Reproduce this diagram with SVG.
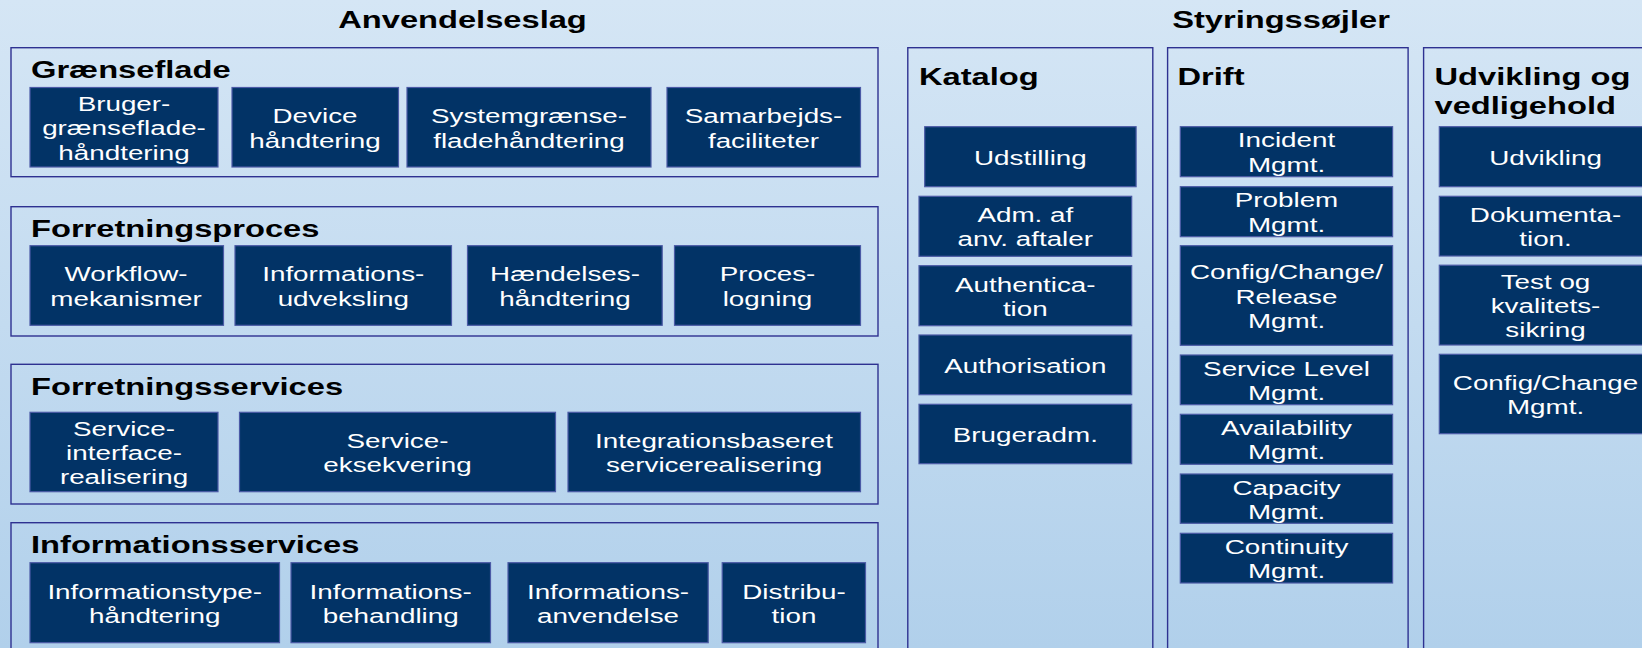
<svg xmlns="http://www.w3.org/2000/svg" width="1642" height="648" viewBox="0 0 1642 648">
  <defs>
    <linearGradient id="bgGrad" x1="0" y1="0" x2="0" y2="1">
      <stop offset="0" stop-color="#d5e6f5"/>
      <stop offset="1" stop-color="#b1d0eb"/>
    </linearGradient>
    <style>
      .grp { fill: none; stroke: #2e3191; stroke-width: 1.4; }
      .box { fill: #023366; stroke: #4b5aa6; stroke-width: 1.2; }
      .lbl { font-family: "Liberation Sans", Arial, sans-serif; font-size: 20px; fill: #ffffff; text-anchor: middle; }
      .hd { font-family: "Liberation Sans", Arial, sans-serif; font-size: 23px; font-weight: bold; fill: #000000; }
      .hdc { text-anchor: middle; }
    </style>
  </defs>

  <rect x="0" y="0" width="1642" height="648" fill="url(#bgGrad)"/>

  <!-- section headings -->
  <g id="headings">
    <text class="hd hdc" transform="translate(462.5,28) scale(1.42,1)">Anvendelseslag</text>
    <text class="hd hdc" transform="translate(1281,28) scale(1.42,1)">Styringssøjler</text>
  </g>

  <!-- application layers (left) -->
  <g id="layer-graenseflade">
    <rect class="grp" x="11" y="47.7" width="867" height="129"/>
    <text class="hd" transform="translate(31,78.3) scale(1.42,1)">Grænseflade</text>
    <g id="n-brugergraenseflade">
      <rect class="box" x="30" y="87.5" width="188" height="79.5"/>
      <text class="lbl" transform="translate(124,111) scale(1.39,1)"><tspan x="0">Bruger-</tspan><tspan x="0" dy="24.5">grænseflade-</tspan><tspan x="0" dy="24.5">håndtering</tspan></text>
    </g>
    <g id="n-device">
      <rect class="box" x="232" y="87.5" width="166.5" height="79.5"/>
      <text class="lbl" transform="translate(315,123.2) scale(1.39,1)"><tspan x="0">Device</tspan><tspan x="0" dy="24.5">håndtering</tspan></text>
    </g>
    <g id="n-systemgraenseflade">
      <rect class="box" x="407" y="87.5" width="244" height="79.5"/>
      <text class="lbl" transform="translate(529,123.2) scale(1.39,1)"><tspan x="0">Systemgrænse-</tspan><tspan x="0" dy="24.5">fladehåndtering</tspan></text>
    </g>
    <g id="n-samarbejds">
      <rect class="box" x="667" y="87.5" width="193.5" height="79.5"/>
      <text class="lbl" transform="translate(763.5,123.2) scale(1.39,1)"><tspan x="0">Samarbejds-</tspan><tspan x="0" dy="24.5">faciliteter</tspan></text>
    </g>
  </g>

  <g id="layer-forretningsproces">
    <rect class="grp" x="11" y="206.7" width="867" height="129.3"/>
    <text class="hd" transform="translate(31,236.7) scale(1.42,1)">Forretningsproces</text>
    <g id="n-workflow">
      <rect class="box" x="30" y="245.7" width="193.5" height="79.6"/>
      <text class="lbl" transform="translate(126,281.2) scale(1.39,1)"><tspan x="0">Workflow-</tspan><tspan x="0" dy="24.5">mekanismer</tspan></text>
    </g>
    <g id="n-informationsudveksling">
      <rect class="box" x="235" y="245.7" width="216.5" height="79.6"/>
      <text class="lbl" transform="translate(343.3,281.2) scale(1.39,1)"><tspan x="0">Informations-</tspan><tspan x="0" dy="24.5">udveksling</tspan></text>
    </g>
    <g id="n-haendelses">
      <rect class="box" x="467.5" y="245.7" width="194.7" height="79.6"/>
      <text class="lbl" transform="translate(565,281.2) scale(1.39,1)"><tspan x="0">Hændelses-</tspan><tspan x="0" dy="24.5">håndtering</tspan></text>
    </g>
    <g id="n-proceslogning">
      <rect class="box" x="674.5" y="245.7" width="186" height="79.6"/>
      <text class="lbl" transform="translate(767.5,281.2) scale(1.39,1)"><tspan x="0">Proces-</tspan><tspan x="0" dy="24.5">logning</tspan></text>
    </g>
  </g>

  <g id="layer-forretningsservices">
    <rect class="grp" x="11" y="364.3" width="867" height="139.7"/>
    <text class="hd" transform="translate(31,395) scale(1.42,1)">Forretningsservices</text>
    <g id="n-serviceinterface">
      <rect class="box" x="30" y="412.3" width="188" height="79.4"/>
      <text class="lbl" transform="translate(124,435.5) scale(1.39,1)"><tspan x="0">Service-</tspan><tspan x="0" dy="24.5">interface-</tspan><tspan x="0" dy="24.5">realisering</tspan></text>
    </g>
    <g id="n-serviceeksekvering">
      <rect class="box" x="239.5" y="412.3" width="316" height="79.4"/>
      <text class="lbl" transform="translate(397.5,447.8) scale(1.39,1)"><tspan x="0">Service-</tspan><tspan x="0" dy="24.5">eksekvering</tspan></text>
    </g>
    <g id="n-integrationsbaseret">
      <rect class="box" x="568" y="412.3" width="292.5" height="79.4"/>
      <text class="lbl" transform="translate(714,447.8) scale(1.39,1)"><tspan x="0">Integrationsbaseret</tspan><tspan x="0" dy="24.5">servicerealisering</tspan></text>
    </g>
  </g>

  <g id="layer-informationsservices">
    <rect class="grp" x="11" y="522.7" width="867" height="140"/>
    <text class="hd" transform="translate(31,553.3) scale(1.42,1)">Informationsservices</text>
    <g id="n-informationstype">
      <rect class="box" x="30" y="562.7" width="249.5" height="80"/>
      <text class="lbl" transform="translate(154.7,598.5) scale(1.39,1)"><tspan x="0">Informationstype-</tspan><tspan x="0" dy="24.5">håndtering</tspan></text>
    </g>
    <g id="n-informationsbehandling">
      <rect class="box" x="291" y="562.7" width="199.5" height="80"/>
      <text class="lbl" transform="translate(390.7,598.5) scale(1.39,1)"><tspan x="0">Informations-</tspan><tspan x="0" dy="24.5">behandling</tspan></text>
    </g>
    <g id="n-informationsanvendelse">
      <rect class="box" x="508" y="562.7" width="200.2" height="80"/>
      <text class="lbl" transform="translate(608,598.5) scale(1.39,1)"><tspan x="0">Informations-</tspan><tspan x="0" dy="24.5">anvendelse</tspan></text>
    </g>
    <g id="n-distribution">
      <rect class="box" x="722.2" y="562.7" width="143.3" height="80"/>
      <text class="lbl" transform="translate(794,598.5) scale(1.39,1)"><tspan x="0">Distribu-</tspan><tspan x="0" dy="24.5">tion</tspan></text>
    </g>
  </g>

  <!-- governance pillars (right) -->
  <g id="pillar-katalog">
    <rect class="grp" x="907.8" y="47.7" width="245" height="620"/>
    <text class="hd" transform="translate(919,85) scale(1.42,1)">Katalog</text>
    <g id="n-udstilling">
      <rect class="box" x="924.7" y="126.7" width="211.4" height="60"/>
      <text class="lbl" transform="translate(1030.4,165) scale(1.39,1)">Udstilling</text>
    </g>
    <g id="n-adm-aftaler">
      <rect class="box" x="919" y="196.3" width="212.7" height="60"/>
      <text class="lbl" transform="translate(1025.3,222) scale(1.39,1)"><tspan x="0">Adm. af</tspan><tspan x="0" dy="24.5">anv. aftaler</tspan></text>
    </g>
    <g id="n-authentication">
      <rect class="box" x="919" y="265.7" width="212.7" height="60"/>
      <text class="lbl" transform="translate(1025.3,291.5) scale(1.39,1)"><tspan x="0">Authentica-</tspan><tspan x="0" dy="24.5">tion</tspan></text>
    </g>
    <g id="n-authorisation">
      <rect class="box" x="919" y="335" width="212.7" height="59.7"/>
      <text class="lbl" transform="translate(1025.3,373.2) scale(1.39,1)">Authorisation</text>
    </g>
    <g id="n-brugeradm">
      <rect class="box" x="919" y="404.3" width="212.7" height="59.4"/>
      <text class="lbl" transform="translate(1025.3,442.3) scale(1.39,1)">Brugeradm.</text>
    </g>
  </g>

  <g id="pillar-drift">
    <rect class="grp" x="1167.6" y="47.7" width="240.5" height="620"/>
    <text class="hd" transform="translate(1177.5,85) scale(1.42,1)">Drift</text>
    <g id="n-incident">
      <rect class="box" x="1180.3" y="126.7" width="212.3" height="50"/>
      <text class="lbl" transform="translate(1286.5,147.3) scale(1.39,1)"><tspan x="0">Incident</tspan><tspan x="0" dy="24.5">Mgmt.</tspan></text>
    </g>
    <g id="n-problem">
      <rect class="box" x="1180.3" y="186.7" width="212.3" height="50"/>
      <text class="lbl" transform="translate(1286.5,207.3) scale(1.39,1)"><tspan x="0">Problem</tspan><tspan x="0" dy="24.5">Mgmt.</tspan></text>
    </g>
    <g id="n-config-release">
      <rect class="box" x="1180.3" y="245.7" width="212.3" height="99.6"/>
      <text class="lbl" transform="translate(1286.5,279.2) scale(1.39,1)"><tspan x="0">Config/Change/</tspan><tspan x="0" dy="24.5">Release</tspan><tspan x="0" dy="24.5">Mgmt.</tspan></text>
    </g>
    <g id="n-servicelevel">
      <rect class="box" x="1180.3" y="355" width="212.3" height="49.7"/>
      <text class="lbl" transform="translate(1286.5,375.6) scale(1.39,1)"><tspan x="0">Service Level</tspan><tspan x="0" dy="24.5">Mgmt.</tspan></text>
    </g>
    <g id="n-availability">
      <rect class="box" x="1180.3" y="414.3" width="212.3" height="50"/>
      <text class="lbl" transform="translate(1286.5,435) scale(1.39,1)"><tspan x="0">Availability</tspan><tspan x="0" dy="24.5">Mgmt.</tspan></text>
    </g>
    <g id="n-capacity">
      <rect class="box" x="1180.3" y="474" width="212.3" height="49.3"/>
      <text class="lbl" transform="translate(1286.5,494.5) scale(1.39,1)"><tspan x="0">Capacity</tspan><tspan x="0" dy="24.5">Mgmt.</tspan></text>
    </g>
    <g id="n-continuity">
      <rect class="box" x="1180.3" y="533.3" width="212.3" height="49.7"/>
      <text class="lbl" transform="translate(1286.5,554) scale(1.39,1)"><tspan x="0">Continuity</tspan><tspan x="0" dy="24.5">Mgmt.</tspan></text>
    </g>
  </g>

  <g id="pillar-udvikling">
    <rect class="grp" x="1423.6" y="47.7" width="240" height="620"/>
    <text class="hd" transform="translate(1434.5,85) scale(1.42,1)"><tspan x="0">Udvikling og</tspan><tspan x="0" dy="29.3">vedligehold</tspan></text>
    <g id="n-udvikling">
      <rect class="box" x="1439.3" y="126.7" width="213" height="60"/>
      <text class="lbl" transform="translate(1545.5,165) scale(1.39,1)">Udvikling</text>
    </g>
    <g id="n-dokumentation">
      <rect class="box" x="1439.3" y="196.3" width="213" height="59.7"/>
      <text class="lbl" transform="translate(1545.5,222) scale(1.39,1)"><tspan x="0">Dokumenta-</tspan><tspan x="0" dy="24.5">tion.</tspan></text>
    </g>
    <g id="n-test">
      <rect class="box" x="1439.3" y="265.2" width="213" height="79.8"/>
      <text class="lbl" transform="translate(1545.5,288.5) scale(1.39,1)"><tspan x="0">Test og</tspan><tspan x="0" dy="24.5">kvalitets-</tspan><tspan x="0" dy="24.5">sikring</tspan></text>
    </g>
    <g id="n-config-change">
      <rect class="box" x="1439.3" y="354.3" width="213" height="79.4"/>
      <text class="lbl" transform="translate(1545.5,389.6) scale(1.39,1)"><tspan x="0">Config/Change</tspan><tspan x="0" dy="24.5">Mgmt.</tspan></text>
    </g>
  </g>

  <!-- no connectors in this layout -->
  <g id="connectors"/>
</svg>
